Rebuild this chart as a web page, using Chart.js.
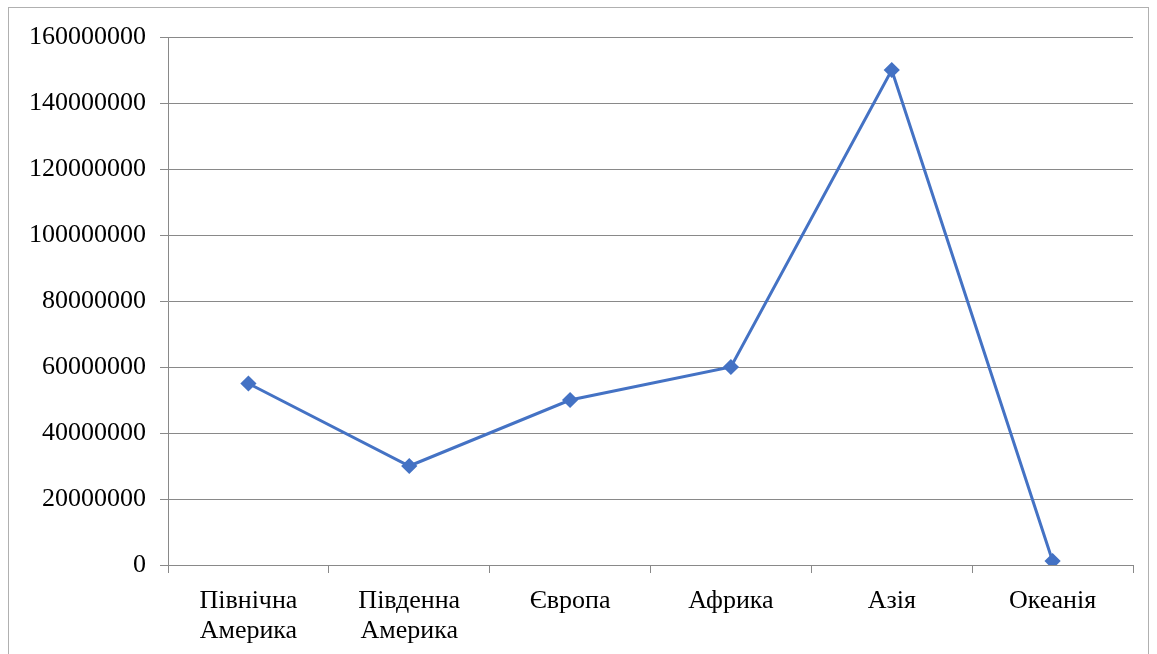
<!DOCTYPE html>
<html>
<head>
<meta charset="utf-8">
<script src="https://cdn.jsdelivr.net/npm/chart.js@4/dist/chart.umd.min.js"></script>
<style>
  html, body { margin: 0; padding: 0; background: #fff; }
  #wrap { position: relative; width: 1157px; height: 654px; }
  #frame { position: absolute; left: 8px; top: 7px; width: 1141px; height: 660px; border: 1px solid #b0b0b0; box-sizing: border-box; }
</style>
</head>
<body>
<div id="wrap">
  <div id="frame"></div>
  <canvas id="regionChart" width="1157" height="654"></canvas>
</div>
<script>
const regions = [['Північна', 'Америка'], ['Південна', 'Америка'], 'Європа', 'Африка', 'Азія', 'Океанія'];
const values = [55000000, 30000000, 50000000, 60000000, 150000000, 1200000];
const yTicks = [0, 20000000, 40000000, 60000000, 80000000, 100000000, 120000000, 140000000, 160000000];

document.addEventListener('DOMContentLoaded', function () {
  const ctx = document.getElementById('regionChart');
  const gridColor = '#898989';
  const font = { family: "'Liberation Serif', 'Times New Roman', serif", size: 26 };

  new Chart(ctx, {
    type: 'line',
    data: {
      labels: regions,
      datasets: [{
        data: values,
        borderColor: '#4472C4',
        backgroundColor: '#4472C4',
        borderWidth: 3,
        pointStyle: 'rectRot',
        pointRadius: 6,
        pointHoverRadius: 6,
        tension: 0
      }]
    },
    options: {
      responsive: false,
      animation: false,
      layout: { padding: { left: 0, top: 37, right: 24, bottom: 0 } },
      plugins: { legend: { display: false }, tooltip: { enabled: false } },
      scales: {
        x: {
          offset: true,
          grid: { offset: true, drawOnChartArea: false, color: gridColor, tickLength: 8 },
          border: { color: gridColor },
          ticks: { color: '#000', font: { ...font, lineHeight: 1.15 }, maxRotation: 0, padding: 13 },
          afterFit: function (scale) { scale.height = 89; }
        },
        y: {
          min: 0,
          max: 160000000,
          afterBuildTicks: function (scale) { scale.ticks = yTicks.map(v => ({ value: v })); },
          grid: { color: gridColor, tickLength: 8 },
          border: { color: gridColor },
          ticks: { color: '#000', font: font, padding: 14, callback: v => String(v) },
          afterFit: function (scale) { scale.width = 168; }
        }
      }
    }
  });
});
</script>
</body>
</html>
